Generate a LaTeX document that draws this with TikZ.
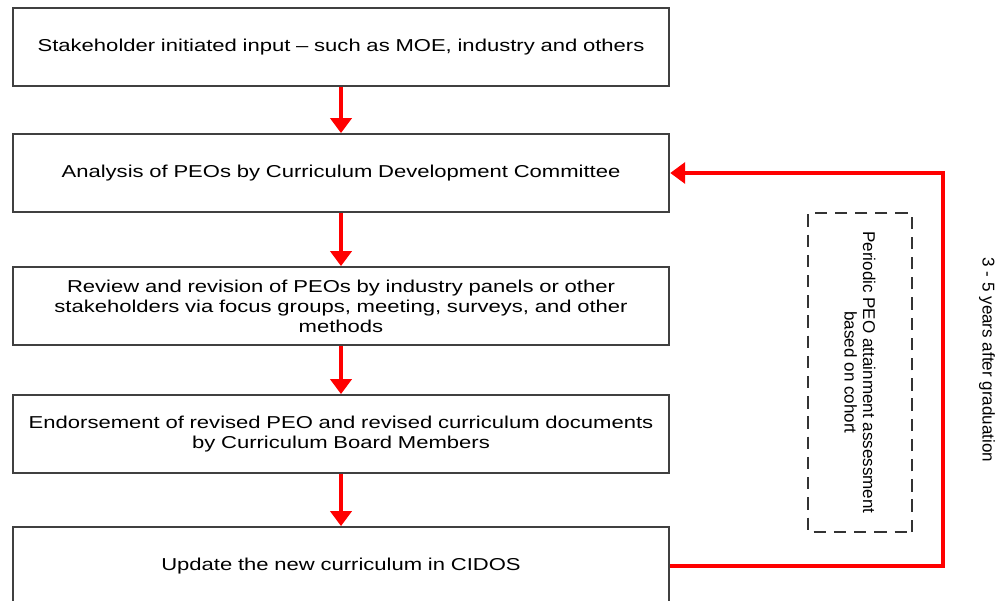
\documentclass[tikz,border=0pt]{standalone}
\usepackage{fontspec}
\setmainfont{Liberation Sans}
\newfontfamily\widefont{Liberation Sans}[FakeStretch=1.28, Ligatures=TeX]
\usetikzlibrary{arrows.meta}

\tikzset{
  stagebox/.style={draw=black!75, line width=1pt, minimum width=13.12cm,
    minimum height=1.56cm, text width=12.9cm, align=center,
    font=\widefont\fontsize{9.8}{11.4}\selectfont},
  flowarrow/.style={red, line width=2.6pt, -{Triangle[length=0.3cm,width=0.42cm]}},
}

\begin{document}
\begin{tikzpicture}
  \useasboundingbox (0,0) rectangle (20.1,-12.02);
  \clip (0,0) rectangle (20.1,-12.02);

  \node[stagebox] (input)   at (6.82,-0.94) {Stakeholder initiated input – such as MOE, industry and others};
  \node[stagebox] (analysis) at (6.82,-3.46) {Analysis of PEOs by Curriculum Development Committee};
  \node[stagebox] (review)  at (6.82,-6.12) {Review and revision of PEOs by industry panels or other\\stakeholders via focus groups, meeting, surveys, and other\\methods};
  \node[stagebox] (endorse) at (6.82,-8.68) {Endorsement of revised PEO and revised curriculum documents\\by Curriculum Board Members};
  \node[stagebox] (update)  at (6.82,-11.32) {Update the new curriculum in CIDOS};

  \draw[flowarrow] (input) -- (analysis);
  \draw[flowarrow] (analysis) -- (review);
  \draw[flowarrow] (review) -- (endorse);
  \draw[flowarrow] (endorse) -- (update);

  % feedback loop
  \coordinate (loop) at (18.86,-7);
  \draw[flowarrow] (update.east) -| (loop) |- (analysis.east);

  \node[draw=black!80, line width=1.1pt, dash pattern=on 7pt off 4.5pt,
    rotate=-90, minimum width=6.38cm, minimum height=2.08cm, align=center,
    font=\fontsize{9.7}{10.6}\selectfont] (assess) at (17.2,-7.45)
    {Periodic PEO attainment assessment\\based on cohort};

  \node[rotate=-90, font=\fontsize{9.7}{11}\selectfont] (period) at (19.74,-7.2)
    {3 - 5 years after graduation};
\end{tikzpicture}
\end{document}
